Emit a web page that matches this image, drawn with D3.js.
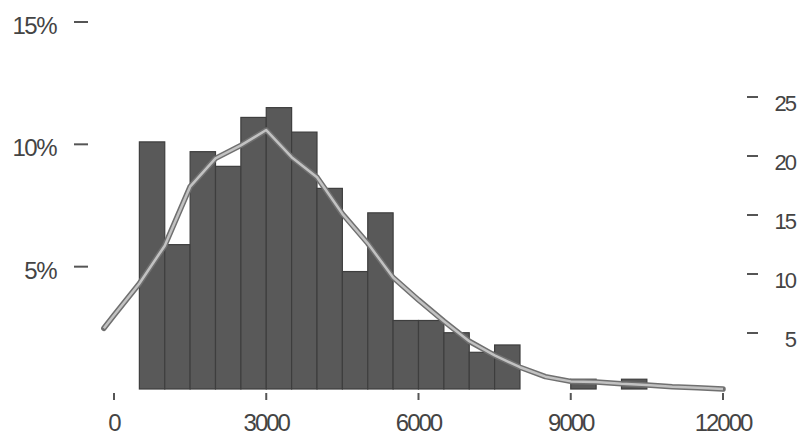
<!DOCTYPE html>
<html>
<head>
<meta charset="utf-8">
<script src="https://cdn.jsdelivr.net/npm/d3@7"></script>
<style>
  body { margin: 0; background: #fff; }
  svg text { font-family: "Liberation Sans", Arial, sans-serif; fill: #444; }
</style>
</head>
<body>
<div id="chart"></div>
<script>
// histogram bins (start of each 500-wide bin) and share of cases in %
var binStarts = [500, 1000, 1500, 2000, 2500, 3000, 3500, 4000, 4500, 5000, 5500, 6000, 6500, 7000, 7500, 9000, 10000];
var binShares = [10.1, 5.9, 9.7, 9.1, 11.1, 11.5, 10.5, 8.2, 4.8, 7.2, 2.8, 2.8, 2.3, 1.5, 1.8, 0.4, 0.4];
var binWidth = 500;

// curve read against the right-hand axis
var curveX = [-200, 0, 500, 1000, 1500, 2000, 2500, 3000, 3500, 4000, 4500, 5000, 5500, 6000,
              6500, 7000, 7500, 8000, 8500, 9000, 9500, 10000, 10500, 11000, 11500, 12000];
var curveY = [5.4, 6.5, 9.2, 12.4, 17.4, 19.8, 20.9, 22.2, 19.9, 18.2, 15.1, 12.6, 9.7, 7.8,
              6.0, 4.3, 3.1, 2.1, 1.3, 0.9, 0.85, 0.7, 0.6, 0.45, 0.35, 0.25];

// tick labels
var xTicks = [0, 3000, 6000, 9000, 12000];
var leftTicks = [5, 10, 15];
var rightTicks = [5, 10, 15, 20, 25];

var width = 797;
var height = 437;

var svg = d3.select("#chart")
  .append("svg")
  .attr("width", width)
  .attr("height", height);

var x = d3.scaleLinear().domain([0, 12000]).range([114, 723]);
var yLeft = d3.scaleLinear().domain([0, 15]).range([389, 22]);
var yRight = d3.scaleLinear().domain([0, 25]).range([392, 97]);

// bars
svg.append("g")
  .selectAll("rect")
  .data(binStarts)
  .enter()
  .append("rect")
    .attr("x", function(d) { return x(d); })
    .attr("y", function(d, i) { return yLeft(binShares[i]); })
    .attr("width", function(d) { return x(d + binWidth) - x(d); })
    .attr("height", function(d, i) { return yLeft(0) - yLeft(binShares[i]); })
    .style("fill", "#595959")
    .style("stroke", "#3e3e3e")
    .style("stroke-width", 1.2);

// curve: grey body with a light core, like the scanned original
var line = d3.line()
  .x(function(d, i) { return x(curveX[i]); })
  .y(function(d) { return yRight(d); });

svg.append("path")
  .datum(curveY)
  .attr("d", line)
  .style("fill", "none")
  .style("stroke", "#707070")
  .style("stroke-width", 5.5)
  .style("stroke-linejoin", "round")
  .style("stroke-linecap", "round");

svg.append("path")
  .datum(curveY)
  .attr("d", line)
  .style("fill", "none")
  .style("stroke", "#c2c2c2")
  .style("stroke-width", 2.5)
  .style("stroke-linejoin", "round");

// x axis: short ticks under the bars, labels below
var xAxis = svg.append("g");
xAxis.selectAll("line")
  .data(xTicks)
  .enter()
  .append("line")
    .attr("x1", function(d) { return x(d); })
    .attr("x2", function(d) { return x(d); })
    .attr("y1", 393)
    .attr("y2", 400)
    .style("stroke", "#555")
    .style("stroke-width", 2);

xAxis.selectAll("text")
  .data(xTicks)
  .enter()
  .append("text")
    .attr("x", function(d) { return x(d); })
    .attr("y", 431)
    .attr("text-anchor", "middle")
    .style("font-size", "24px")
    .style("letter-spacing", "-2px")
    .text(function(d) { return d; });

// left axis (percent)
var left = svg.append("g");
left.selectAll("line")
  .data(leftTicks)
  .enter()
  .append("line")
    .attr("x1", 74)
    .attr("x2", 88)
    .attr("y1", function(d) { return yLeft(d); })
    .attr("y2", function(d) { return yLeft(d); })
    .style("stroke", "#555")
    .style("stroke-width", 2);

left.selectAll("text")
  .data(leftTicks)
  .enter()
  .append("text")
    .attr("x", 56)
    .attr("y", function(d) { return yLeft(d) + 12; })
    .attr("text-anchor", "end")
    .style("font-size", "24px")
    .style("letter-spacing", "-1.5px")
    .text(function(d) { return d + "%"; });

// right axis (counts)
var right = svg.append("g");
right.selectAll("line")
  .data(rightTicks)
  .enter()
  .append("line")
    .attr("x1", 747)
    .attr("x2", 758)
    .attr("y1", function(d) { return yRight(d); })
    .attr("y2", function(d) { return yRight(d); })
    .style("stroke", "#555")
    .style("stroke-width", 2);

right.selectAll("text")
  .data(rightTicks)
  .enter()
  .append("text")
    .attr("x", 795)
    .attr("y", function(d) { return yRight(d) + 14; })
    .attr("text-anchor", "end")
    .style("font-size", "22px")
    .style("letter-spacing", "-2px")
    .text(function(d) { return d; });
</script>
</body>
</html>
